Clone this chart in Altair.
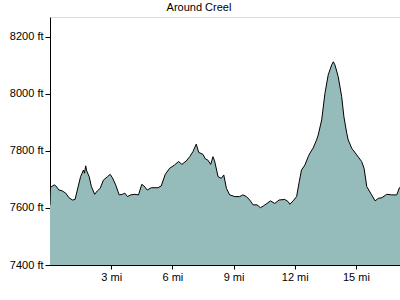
import altair as alt
import pandas as pd

miles = [0.0, 0.02, 0.2, 0.28, 0.44, 0.60, 0.77, 0.93, 1.10, 1.23, 1.34, 1.50, 1.64, 1.69, 1.75, 1.80,
         1.92, 2.03, 2.19, 2.32, 2.46, 2.62, 2.82, 2.95, 3.06, 3.22, 3.39, 3.55, 3.67, 3.80, 3.96,
         4.16, 4.34, 4.50, 4.60, 4.77, 4.96, 5.29, 5.45, 5.65, 5.86, 6.11, 6.30, 6.47, 6.68, 6.85,
         7.01, 7.17, 7.29, 7.50, 7.62, 7.74, 7.88, 7.99, 8.07, 8.24, 8.40, 8.52, 8.65, 8.81, 9.06,
         9.30, 9.46, 9.63, 9.79, 9.96, 10.15, 10.32, 10.48, 10.64, 10.81, 11.02, 11.23, 11.51,
         11.68, 11.76, 11.92, 12.09, 12.22, 12.33, 12.50, 12.66, 12.74, 12.90, 13.07, 13.15, 13.32,
         13.48, 13.64, 13.81, 13.89, 13.97, 14.13, 14.30, 14.41, 14.55, 14.62, 14.79, 15.04, 15.28,
         15.40, 15.53, 15.77, 15.94, 16.10, 16.27, 16.51, 16.76, 17.00, 17.13, 17.16]
elevation = [7610, 7672, 7681, 7678, 7663, 7660, 7652, 7636, 7628, 7630, 7663, 7710, 7733, 7722, 7748, 7730,
             7710, 7675, 7648, 7660, 7669, 7698, 7710, 7718, 7706, 7681, 7646, 7648, 7652, 7640, 7646,
             7648, 7646, 7683, 7678, 7663, 7671, 7671, 7677, 7718, 7739, 7751, 7763, 7753, 7765, 7780,
             7798, 7824, 7795, 7788, 7772, 7768, 7753, 7780, 7765, 7710, 7704, 7716, 7669, 7646, 7640,
             7640, 7646, 7640, 7628, 7611, 7611, 7601, 7608, 7616, 7625, 7616, 7628, 7630,
             7622, 7613, 7625, 7640, 7692, 7733, 7751, 7780, 7792, 7810, 7839, 7856, 7909,
             8002, 8067, 8102, 8113, 8102, 8061, 7991, 7920, 7862, 7839, 7810, 7786, 7763,
             7739, 7675, 7646, 7625, 7634, 7636, 7648, 7646, 7646, 7671, 7672]

x_ticks = [3, 6, 9, 12, 15]
y_ticks = [7400, 7600, 7800, 8000, 8200]

df = pd.DataFrame({"mi": miles, "ft": elevation})

FONT = "Liberation Sans"

chart = alt.Chart(df).mark_area(
    color="#96BBBB",
    opacity=1,
    interpolate="linear",
    clip=True,
    line=alt.OverlayMarkDef(color="black", strokeWidth=1),
).encode(
    x=alt.X("mi:Q", scale=alt.Scale(domain=[0, 17.16], nice=False, zero=False),
            axis=alt.Axis(values=x_ticks, labelExpr="datum.value + ' mi'", title=None, grid=False,
                          domainColor="black", tickColor="black", tickSize=4, labelColor="black",
                          labelFont=FONT, labelFontSize=11, labelPadding=2, labelFlush=False)),
    y=alt.Y("ft:Q", scale=alt.Scale(domain=[7400, 8270], nice=False, zero=False),
            axis=alt.Axis(values=y_ticks, labelExpr="datum.value + ' ft'", title=None, grid=False,
                          domainColor="black", tickColor="black", tickSize=5, labelColor="black",
                          labelFont=FONT, labelFontSize=11, labelPadding=2, labelFlush=False)),
).properties(
    width=350,
    height=248,
    title=alt.TitleParams("Around Creel", font=FONT, fontSize=11, fontWeight="normal",
                          color="black", anchor="middle", frame="group", dx=-26, offset=4),
    autosize=alt.AutoSizeParams(type="none"),
    padding={"left": 50, "top": 17, "right": 0, "bottom": 35},
).configure_view(stroke=None).configure(background="white")

chart.save("out.html", embed_options={"renderer": "svg", "actions": False})
